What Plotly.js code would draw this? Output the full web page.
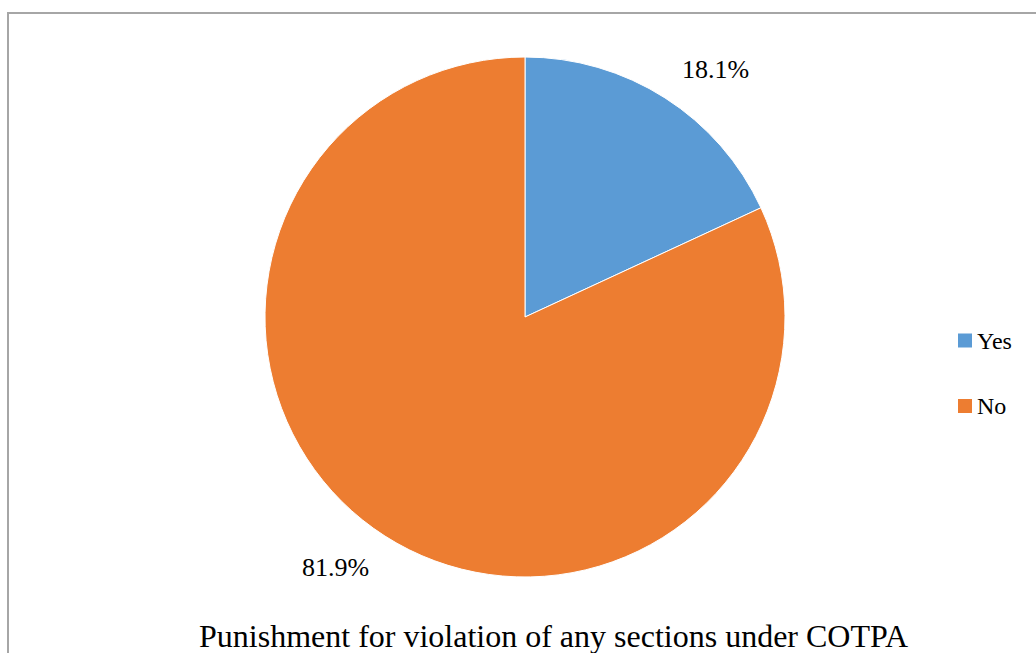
<!DOCTYPE html>
<html>
<head>
<meta charset="utf-8">
<script src="https://cdn.plot.ly/plotly-3.0.1.min.js"></script>
<style>html,body{margin:0;padding:0;background:#fff;}#chart{width:1036px;height:653px;}</style>
</head>
<body>
<div id="chart"></div>
<script>
const categories = ["Yes", "No"];
const values = [18.1, 81.9];
const colors = ["#5B9BD5", "#ED7D31"];
const chartTitle = "Punishment for violation of any sections under COTPA";

const W = 1036, H = 653;
const px = x => x / W;
const py = y => 1 - y / H;
const FONT = "'Liberation Serif', 'Times New Roman', serif";

const total = values.reduce((a, b) => a + b, 0);
const pctText = values.map(v => (v / total * 100).toFixed(1) + "%");

// label placement (pixel anchors) for each slice
const labelPos = [[715, 70], [335, 567]];
// legend layout
const legendX = 958, legendY = [340.5, 406], sq = 14;

const annotations = pctText.map((t, i) => ({
  xref: "paper", yref: "paper", x: px(labelPos[i][0]), y: py(labelPos[i][1]),
  text: t, showarrow: false, xanchor: "center", yanchor: "middle",
  font: {family: FONT, size: 26, color: "#000"}
}));
categories.forEach((c, i) => {
  annotations.push({
    xref: "paper", yref: "paper", x: px(legendX + sq + 3), y: py(legendY[i]),
    text: c, showarrow: false, xanchor: "left", yanchor: "middle",
    font: {family: FONT, size: 24, color: "#000"}
  });
});
annotations.push({
  xref: "paper", yref: "paper", x: px(553), y: py(636),
  text: chartTitle, showarrow: false, xanchor: "center", yanchor: "middle",
  font: {family: FONT, size: 32, color: "#000"}
});

const shapes = [{
  type: "rect", xref: "paper", yref: "paper",
  x0: px(8), x1: 1.05, y0: -0.05, y1: py(13),
  line: {color: "#A6A6A6", width: 2}, fillcolor: "rgba(0,0,0,0)", layer: "below"
}];
categories.forEach((c, i) => {
  shapes.push({
    type: "rect", xref: "paper", yref: "paper",
    x0: px(legendX), x1: px(legendX + sq), y0: py(legendY[i] + sq / 2), y1: py(legendY[i] - sq / 2),
    line: {width: 0}, fillcolor: colors[i]
  });
});

const data = [{
  type: "pie",
  labels: categories,
  values: values,
  marker: {colors: colors, line: {color: "#fff", width: 1}},
  sort: false,
  direction: "clockwise",
  rotation: 0,
  textinfo: "none",
  hoverinfo: "label+percent",
  showlegend: false,
  domain: {x: [px(265), px(785)], y: [py(577), py(57)]}
}];

const layout = {
  width: W, height: H,
  margin: {l: 0, r: 0, t: 0, b: 0},
  paper_bgcolor: "#fff",
  showlegend: false,
  annotations: annotations,
  shapes: shapes,
  font: {family: FONT}
};

Plotly.newPlot("chart", data, layout, {displayModeBar: false, staticPlot: true});
</script>
</body>
</html>
